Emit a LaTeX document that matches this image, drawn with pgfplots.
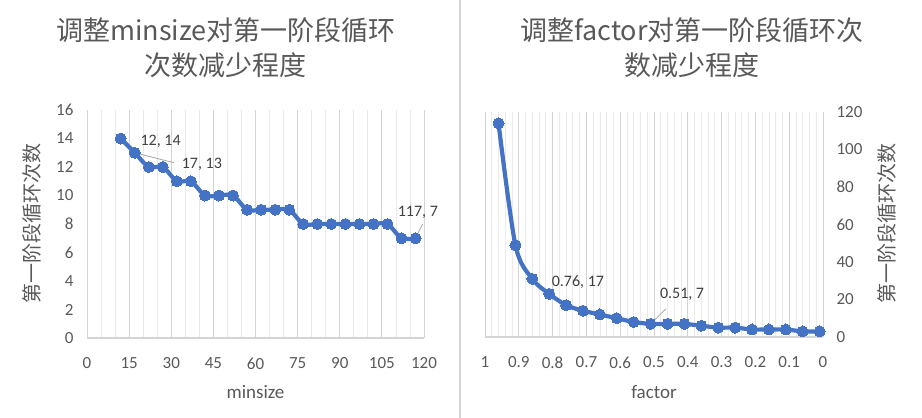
\documentclass[border=0pt]{standalone}
\usepackage{pgfplots}
\pgfplotsset{compat=1.18}
\usepackage{fontspec}
\setmainfont{Carlito}
\newfontfamily\cjk{Noto Sans CJK SC}
\definecolor{txt}{HTML}{595959}
\definecolor{lbl}{HTML}{404040}
\definecolor{ln}{HTML}{4472C4}
\definecolor{gmaj}{HTML}{D4D4D4}
\definecolor{gmin}{HTML}{EAEAEA}
\begin{document}
\begin{tikzpicture}
\useasboundingbox (0pt,0pt) rectangle (922pt,418pt);
\draw[gmaj, line width=1.2pt] (460pt,0pt) -- (460pt,418pt);
% titles
\node[font=\cjk\fontsize{27}{35}\selectfont, text=txt, align=center] at (226pt,370.5pt) {调整minsize对第一阶段循环\\次数减少程度};
\node[font=\cjk\fontsize{27}{35}\selectfont, text=txt, align=center] at (692pt,370.5pt) {调整factor对第一阶段循环次\\数减少程度};
% axis labels
\node[font=\fontsize{19}{22}\selectfont, text=txt] at (255.5pt,26pt) {minsize};
\node[font=\fontsize{19}{22}\selectfont, text=txt] at (654pt,26pt) {factor};
\node[font=\cjk\fontsize{20}{22}\selectfont, text=txt, rotate=90] at (32pt,194pt) {第一阶段循环次数};
\node[font=\cjk\fontsize{20}{22}\selectfont, text=txt, rotate=90] at (887pt,194pt) {第一阶段循环次数};

\begin{axis}[at={(87pt,80pt)}, anchor=south west, scale only axis, width=337pt, height=228pt,
 xmin=0,xmax=120,ymin=0,ymax=16,
 xtick={0,15,...,120}, minor x tick num=2, ytick={0,2,...,16},
 xmajorgrids, xminorgrids,
 major grid style={draw=gmaj, line width=0.8pt},
 minor grid style={draw=gmin, line width=0.8pt},
 axis x line*=bottom, axis y line*=left,
 x axis line style={draw=gmaj, line width=1.2pt, -},
 y axis line style={draw=none},
 major tick length=0pt, minor tick length=0pt,
 tick label style={font=\fontsize{17}{20}\selectfont, text=txt},
 xticklabel style={yshift=-16pt},
 yticklabel style={xshift=-10pt},
 /pgf/number format/assume math mode=true,
 clip=false]
\addplot[ln, line width=4.2pt, smooth, mark=*, mark size=5.5pt, mark options={fill=ln, draw=ln, line width=0pt}] coordinates {
(12,14) (17,13) (22,12) (27,12) (32,11) (37,11) (42,10) (47,10) (52,10) (57,9) (62,9) (67,9) (72,9)
(77,8) (82,8) (87,8) (92,8) (97,8) (102,8) (107,8) (112,7) (117,7)};
\draw[gray!70, line width=0.8pt] (axis cs:17,13) -- (axis cs:31,12.3);
\draw[gray!70, line width=0.8pt] (axis cs:117,7) -- (axis cs:119.5,8.0);
\node[font=\fontsize{16}{18}\selectfont, text=lbl] at (axis cs:26.2,13.8) {12, 14};
\node[font=\fontsize{16}{18}\selectfont, text=lbl] at (axis cs:40.9,12.2) {17, 13};
\node[font=\fontsize{16}{18}\selectfont, text=lbl] at (axis cs:117.8,8.85) {117, 7};
\end{axis}

\begin{axis}[at={(485pt,81pt)}, anchor=south west, scale only axis, width=338pt, height=225pt,
 xmin=0,xmax=1,x dir=reverse,ymin=0,ymax=120,
 xtick={0,0.1,0.2,0.3,0.4,0.5,0.6,0.7,0.8,0.9,1},
 xticklabels={0,0.1,0.2,0.3,0.4,0.5,0.6,0.7,0.8,0.9,1},
 minor x tick num=4, ytick={0,20,...,120},
 xmajorgrids, xminorgrids,
 major grid style={draw=gmaj, line width=0.8pt},
 minor grid style={draw=gmin, line width=0.8pt},
 axis x line*=bottom, axis y line*=right,
 x axis line style={draw=gmaj, line width=1.2pt, -},
 y axis line style={draw=none},
 major tick length=0pt, minor tick length=0pt,
 tick label style={font=\fontsize{17}{20}\selectfont, text=txt},
 xticklabel style={yshift=-16pt},
 yticklabel style={xshift=10pt},
 /pgf/number format/assume math mode=true,
 clip=false]
\addplot[ln, line width=4.2pt, smooth, mark=*, mark size=5.5pt, mark options={fill=ln, draw=ln, line width=0pt}] coordinates {
(0.96,114) (0.91,49) (0.86,31) (0.81,23) (0.76,17) (0.71,14) (0.66,12) (0.61,10) (0.56,8) (0.51,7)
(0.46,7) (0.41,7) (0.36,6) (0.31,5) (0.26,5) (0.21,4) (0.16,4) (0.11,4) (0.06,3) (0.01,3)};
\draw[gray!70, line width=0.8pt] (axis cs:0.51,7) -- (axis cs:0.465,15);
\node[font=\fontsize{16}{18}\selectfont, text=lbl] at (axis cs:0.725,29.5) {0.76, 17};
\node[font=\fontsize{16}{18}\selectfont, text=lbl] at (axis cs:0.417,22.5) {0.51, 7};
\end{axis}
\end{tikzpicture}
\end{document}
